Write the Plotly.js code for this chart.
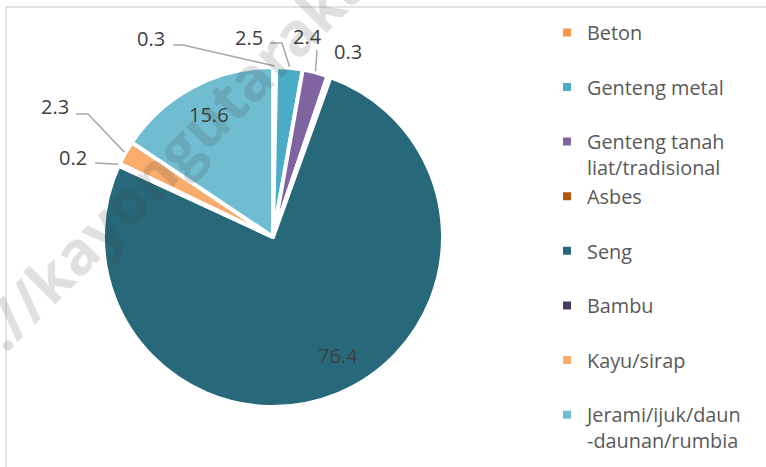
<!DOCTYPE html>
<html>
<head>
<meta charset="utf-8">
<script src="https://cdn.plot.ly/plotly-3.0.1.min.js"></script>
<style>html,body{margin:0;padding:0;background:#fff;}#chart{width:766px;height:467px;}</style>
</head>
<body>
<div id="chart"></div>
<script>
// ---- data ----
const categories = ['Beton', 'Genteng metal', 'Genteng tanah liat/tradisional', 'Asbes', 'Seng', 'Bambu', 'Kayu/sirap', 'Jerami/ijuk/daun-daunan/rumbia'];
const values = [0.3, 2.5, 2.4, 0.3, 76.4, 0.2, 2.3, 15.6];
const legendLabels = ['Beton', 'Genteng metal', 'Genteng tanah<br>liat/tradisional', 'Asbes', 'Seng', 'Bambu', 'Kayu/sirap', 'Jerami/ijuk/daun<br>-daunan/rumbia'];
const colors = ['#F79646', '#4BACC6', '#8064A2', '#B65708', '#27697A', '#4B3A60', '#F9AC6C', '#70BDD1'];
const watermark = 'https://kayongutarakab.bps.go.id';

// ---- geometry / styles ----
const W = 766, H = 467;
const CX = 273, CY = 237, R = 170;
const px = x => x / W;
const py = y => 1 - y / H;

// data label positions (px) and leader elbows (px)
const labelPos = [[151, 39], [249, 37], [307.5, 36], [347.5, 52], [337.5, 355], [72.5, 157], [55, 107], [209, 115]];
const elbows = [[[173, 45], [183, 45]], [[270, 43], [282, 43]], [[317, 50]], null, null, [[95, 163]], [[76, 114], [88, 114]], null];

const total = values.reduce((a, b) => a + b, 0);
let cum = 0;
const annotations = [];
const shapes = [];
values.forEach((v, i) => {
  const mid = (cum + v / 2) / total * 2 * Math.PI;
  cum += v;
  const ex = CX + (R + 1) * Math.sin(mid);
  const ey = CY - (R + 1) * Math.cos(mid);
  annotations.push({
    xref: 'paper', yref: 'paper', x: px(labelPos[i][0]), y: py(labelPos[i][1]),
    xanchor: 'center', yanchor: 'middle', showarrow: false,
    text: v.toFixed(1), font: {family: 'Open Sans', size: 20, color: '#404040'}
  });
  if (elbows[i]) {
    const pts = elbows[i].concat([[ex, ey]]);
    const path = pts.map((p, k) => (k ? 'L' : 'M') + px(p[0]) + ',' + py(p[1])).join(' ');
    shapes.push({type: 'path', xref: 'paper', yref: 'paper', path: path,
      line: {color: '#A6A6A6', width: 1.5}, layer: 'above'});
  }
});

// chart frame
shapes.push({type: 'rect', xref: 'paper', yref: 'paper', x0: px(6), x1: 1.2, y0: -0.2, y1: py(7),
  line: {color: '#D9D9D9', width: 1.3}, layer: 'below'});

// watermark
annotations.push({
  xref: 'paper', yref: 'paper', x: px(231), y: py(96), xanchor: 'center', yanchor: 'middle',
  showarrow: false, textangle: -45, text: '<b>' + watermark + '</b>',
  font: {family: 'Open Sans', size: 60, color: 'rgba(60,60,60,0.16)'}
});

const trace = {
  type: 'pie',
  labels: legendLabels.map(l => l.indexOf('<br>') >= 0 ? l : l + '<br>&nbsp;'),
  values: values,
  sort: false,
  direction: 'clockwise',
  rotation: 0,
  textinfo: 'none',
  hoverinfo: 'skip',
  marker: {colors: colors, line: {color: '#FFFFFF', width: 4}},
  domain: {x: [px(CX - R), px(CX + R)], y: [py(CY + R), py(CY - R)]},
  showlegend: true
};

const layout = {
  width: W, height: H,
  margin: {l: 0, r: 0, t: 0, b: 0},
  paper_bgcolor: '#FFFFFF',
  showlegend: true,
  legend: {
    x: px(547), y: py(13), xanchor: 'left', yanchor: 'top',
    font: {family: 'Open Sans', size: 19.85, color: '#595959'},
    valign: 'top', bgcolor: 'rgba(0,0,0,0)', tracegroupgap: 0
  },
  annotations: annotations,
  shapes: shapes
};

Plotly.newPlot('chart', [trace], layout, {staticPlot: true});
</script>
</body>
</html>
